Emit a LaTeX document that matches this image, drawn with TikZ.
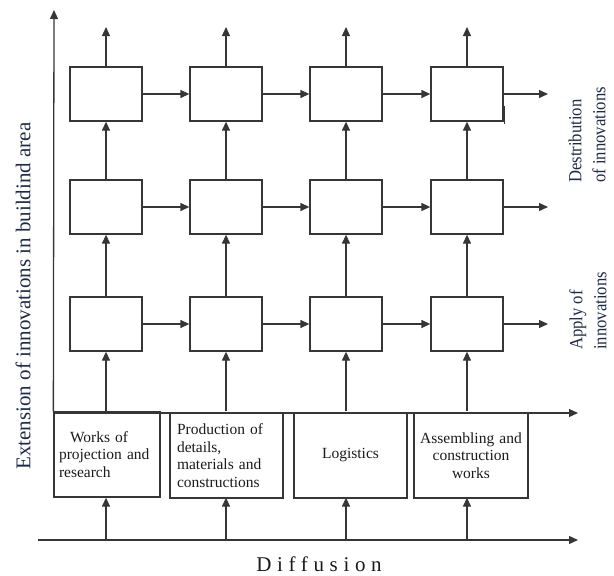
\documentclass[tikz,border=0pt]{standalone}
\usepackage{fontspec}
\setmainfont{Liberation Serif}
\newfontfamily\spaced[LetterSpace=27]{Liberation Serif}
\usetikzlibrary{arrows.meta,calc}
\definecolor{lncol}{HTML}{363636}
\definecolor{txt}{HTML}{1A1A1A}
\definecolor{lab}{HTML}{1F2A44}
\begin{document}
\begin{tikzpicture}[x=1pt,y=-1pt,
  ln/.style={draw=lncol, line width=1.3pt},
  arr/.style={draw=lncol, line width=1.3pt, -{Triangle[length=9pt,width=8pt]}},
  cell/.style={draw=lncol, line width=1.3pt, minimum width=72pt, minimum height=54pt, inner sep=0pt},
  base/.style={draw=lncol, line width=1.3pt, minimum height=85pt, inner ysep=0pt,
    font=\fontsize{15.5}{17.5}\selectfont, text=txt},
  ylabel/.style={font=\fontsize{21}{25}\selectfont, text=lab, inner sep=0pt},
  rlab/.style={font=\fontsize{18.5}{24}\selectfont, text=lab, inner sep=0pt, rotate=90, xscale=0.9, anchor=west, align=left}
]
\useasboundingbox (0,0) rectangle (614,576);

% bottom boxes
\node[base, text width=96pt, inner xsep=5pt, align=left] (w1) at (107,454.5)
  {\hspace*{11pt}Works of\\projection and\\research};
\node[base, text width=99pt, inner xsep=7pt, align=left] (w2) at (226.5,455.5)
  {Production of\\details,\\materials and\\constructions};
\node[base, text width=105pt, inner xsep=4pt, align=center] (w3) at (350.5,455.5)
  {Logistics};
\node[base, text width=106pt, inner xsep=4pt, align=center] (w4) at (471,455.5)
  {Assembling and\\construction\\works};

% grid cells
\foreach \c/\x in {1/106,2/226,3/346,4/467}{
  \foreach \r/\y in {1/94,2/207,3/324}{
    \node[cell] (r\r c\c) at (\x,\y) {};
  }
}

% axes
\coordinate (ytop) at (54,10);
\coordinate (hend) at (578,413);
\coordinate (bstart) at (38,540);
\coordinate (bend) at (578,540);
\draw[arr] (w1.north west) -- (ytop);
\draw[arr] (w1.north west |- hend) -- (hend);
\draw[arr] (bstart) -- (bend);

% vertical arrows
\foreach \c/\x in {1/106,2/226,3/346,4/467}{
  \coordinate (a\c) at (\x,540);
  \coordinate (t\c) at (\x,27);
  \draw[arr] (a\c) -- (a\c |- w1.south);
  \draw[arr] (r3c\c.south |- w1.north) -- (r3c\c.south);
  \draw[arr] (r3c\c.north) -- (r2c\c.south);
  \draw[arr] (r2c\c.north) -- (r1c\c.south);
  \draw[arr] (r1c\c.north) -- (t\c);
}

% horizontal arrows
\foreach \r/\y in {1/94,2/207,3/324}{
  \coordinate (e\r) at (548,\y);
  \draw[arr] (r\r c1.east) -- (r\r c2.west);
  \draw[arr] (r\r c2.east) -- (r\r c3.west);
  \draw[arr] (r\r c3.east) -- (r\r c4.west);
  \draw[arr] (r\r c4.east) -- (e\r);
}

% stray tick
\draw[draw=lncol, line width=1pt] ($(r1c4.south east)+(1,2)$) -- ++(0,-18);

% labels
\node[ylabel, rotate=90] (ylab) at (23,296) {Extension of innovations in buildind area};
\node[font=\fontsize{21}{25}\selectfont\spaced, text=txt, inner sep=0pt] (xlab) at (319,564) {Diffusion};
\node[rlab] (dist) at (587,183) {Destribution\\of innovations};
\node[rlab] (apply) at (588,350) {Apply of\\innovations};
\end{tikzpicture}
\end{document}
